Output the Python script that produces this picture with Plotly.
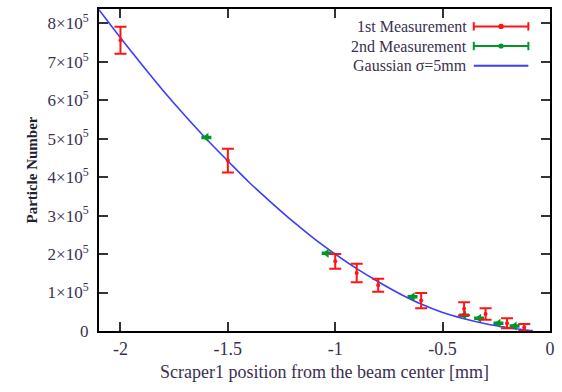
import plotly.graph_objects as go

# 1st measurement (red)
m1_x = [-2.0, -1.5, -1.0, -0.9, -0.8, -0.6, -0.4, -0.3, -0.2, -0.12]
m1_y = [7.56e5, 4.43e5, 1.81e5, 1.51e5, 1.19e5, 0.79e5, 0.58e5, 0.44e5, 0.20e5, 0.09e5]
m1_err = [0.35e5, 0.31e5, 0.19e5, 0.24e5, 0.17e5, 0.20e5, 0.17e5, 0.15e5, 0.13e5, 0.09e5]

# 2nd measurement (green)
m2_x = [-1.6, -1.04, -0.64, -0.40, -0.33, -0.24, -0.165]
m2_y = [5.03e5, 2.02e5, 0.89e5, 0.41e5, 0.33e5, 0.20e5, 0.13e5]
m2_err = [0.02e5, 0.02e5, 0.02e5, 0.02e5, 0.02e5, 0.02e5, 0.02e5]

# Gaussian sigma=5mm curve
g_x = [-2.1, -2.0, -1.9, -1.8, -1.7, -1.6, -1.5, -1.4, -1.3, -1.2, -1.1, -1.0,
       -0.9, -0.8, -0.7, -0.6, -0.5, -0.4, -0.3, -0.2, -0.15, -0.1, -0.08]
g_y = [8.35e5, 7.62e5, 6.92e5, 6.24e5, 5.60e5, 4.99e5, 4.42e5, 3.86e5, 3.35e5, 2.86e5, 2.41e5, 2.00e5,
       1.62e5, 1.28e5, 0.97e5, 0.70e5, 0.48e5, 0.32e5, 0.19e5, 0.09e5, 0.05e5, 0.02e5, 0.01e5]

x_ticks = [-2, -1.5, -1, -0.5, 0]
x_ticktext = ["-2", "-1.5", "-1", "-0.5", "0"]
y_ticks = [0, 1e5, 2e5, 3e5, 4e5, 5e5, 6e5, 7e5, 8e5]
y_ticktext = ["0"] + [f"{i}\u00d710<sup>5</sup>" for i in range(1, 9)]

legend_names = ["1st Measurement", "2nd Measurement", "Gaussian \u03c3=5mm"]

RED = "rgb(255,20,20)"
GREEN = "rgb(0,150,40)"
BLUE = "rgb(60,60,255)"
FONT = "Liberation Serif, Times New Roman, serif"
TXT = "#3a3050"

fig = go.Figure()
fig.add_trace(go.Scatter(x=g_x, y=g_y, mode="lines", name=legend_names[2],
                         line=dict(color=BLUE, width=1.6, shape="spline"), showlegend=False))
fig.add_trace(go.Scatter(x=m2_x, y=m2_y, mode="markers", name=legend_names[1],
                         marker=dict(color=GREEN, size=8, symbol="triangle-left"),
                         error_y=dict(type="data", array=m2_err, color=GREEN, thickness=2, width=5),
                         showlegend=False))
fig.add_trace(go.Scatter(x=m1_x, y=m1_y, mode="markers", name=legend_names[0],
                         marker=dict(color=RED, size=4),
                         error_y=dict(type="data", array=m1_err, color=RED, thickness=2, width=6),
                         showlegend=False))

# custom legend (text right-aligned, sample to its right)
leg_y = [0.946, 0.885, 0.824]
leg_col = [RED, GREEN, BLUE]
x0, x1 = 0.831, 0.952
for i, (name, yy, col) in enumerate(zip(legend_names, leg_y, leg_col)):
    fig.add_annotation(xref="paper", yref="paper", x=0.818, y=yy, text=name,
                       showarrow=False, xanchor="right", yanchor="middle", borderpad=0,
                       font=dict(family=FONT, size=16, color=TXT))
    fig.add_shape(type="line", xref="paper", yref="paper", x0=x0, x1=x1, y0=yy, y1=yy,
                  line=dict(color=col, width=2))
    if i < 2:
        for xe in (x0, x1):
            fig.add_shape(type="line", xref="paper", yref="paper", x0=xe, x1=xe,
                          y0=yy - 0.013, y1=yy + 0.013, line=dict(color=col, width=2))
        fig.add_shape(type="circle", xref="paper", yref="paper",
                      x0=(x0 + x1) / 2 - 0.006, x1=(x0 + x1) / 2 + 0.006,
                      y0=yy - 0.008, y1=yy + 0.008, fillcolor=col, line=dict(color=col, width=0))

fig.update_layout(
    width=562, height=392,
    margin=dict(l=99, r=8, t=7, b=61),
    paper_bgcolor="white", plot_bgcolor="white",
    font=dict(family=FONT, size=18, color=TXT),
    showlegend=False,
)
fig.update_xaxes(range=[-2.1, 0], tickvals=x_ticks, ticktext=x_ticktext,
                 showgrid=False, zeroline=False, showline=True, linecolor="black", linewidth=2,
                 mirror="ticks", ticks="inside", ticklen=9, tickwidth=2, tickcolor="#333",
                 tickfont=dict(family=FONT, size=18, color=TXT),
                 title=dict(text="Scraper1 position from the beam center [mm]",
                            font=dict(family=FONT, size=18, color=TXT), standoff=8))
fig.update_yaxes(range=[0, 8.37e5], tickvals=y_ticks, ticktext=y_ticktext,
                 showgrid=False, zeroline=False, showline=True, linecolor="black", linewidth=2,
                 mirror="ticks", ticks="inside", ticklen=9, tickwidth=2, tickcolor="#333",
                 ticklabelstandoff=5,
                 tickfont=dict(family=FONT, size=17, color=TXT),
                 title=dict(text="<b>Particle Number</b>", font=dict(family=FONT, size=15, color="#202030"),
                            standoff=6))

fig.write_html("out.html")
